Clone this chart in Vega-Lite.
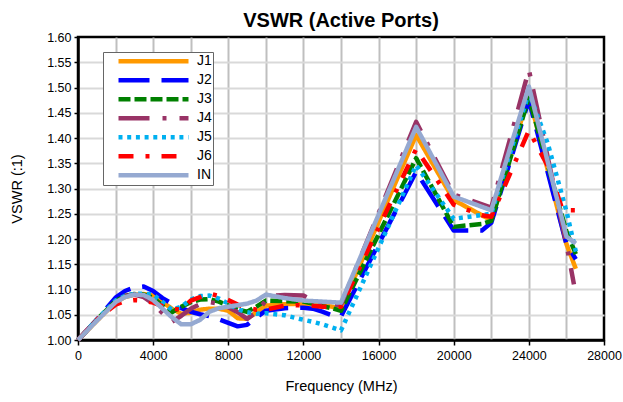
{
  "$schema": "https://vega.github.io/schema/vega-lite/v6.json",
  "width": 526,
  "height": 303,
  "autosize": {"type": "none"},
  "padding": {"left": 78, "top": 37, "right": 19, "bottom": 62},
  "title": {"text": "VSWR (Active Ports)", "font": "Liberation Sans", "fontSize": 20, "fontWeight": "bold", "color": "black", "offset": 0, "anchor": "middle"},
  "datasets": {
    "pts": [
      {"port":"J1","freq":0,"vswr":1.000},{"port":"J1","freq":1000,"vswr":1.038},{"port":"J1","freq":2000,"vswr":1.075},{"port":"J1","freq":2500,"vswr":1.085},{"port":"J1","freq":3000,"vswr":1.090},{"port":"J1","freq":3500,"vswr":1.091},{"port":"J1","freq":4000,"vswr":1.088},{"port":"J1","freq":4500,"vswr":1.075},{"port":"J1","freq":5000,"vswr":1.062},{"port":"J1","freq":5500,"vswr":1.052},{"port":"J1","freq":6000,"vswr":1.054},{"port":"J1","freq":6500,"vswr":1.060},{"port":"J1","freq":7000,"vswr":1.062},{"port":"J1","freq":7500,"vswr":1.062},{"port":"J1","freq":8000,"vswr":1.058},{"port":"J1","freq":8500,"vswr":1.043},{"port":"J1","freq":9000,"vswr":1.042},{"port":"J1","freq":9500,"vswr":1.055},{"port":"J1","freq":10000,"vswr":1.068},{"port":"J1","freq":11000,"vswr":1.071},{"port":"J1","freq":12000,"vswr":1.072},{"port":"J1","freq":12500,"vswr":1.072},{"port":"J1","freq":13000,"vswr":1.070},{"port":"J1","freq":13500,"vswr":1.066},{"port":"J1","freq":14000,"vswr":1.062},{"port":"J1","freq":18000,"vswr":1.406},{"port":"J1","freq":20000,"vswr":1.277},{"port":"J1","freq":22000,"vswr":1.237},{"port":"J1","freq":24000,"vswr":1.485},{"port":"J1","freq":26000,"vswr":1.190},{"port":"J1","freq":26500,"vswr":1.141},
      {"port":"J2","freq":0,"vswr":1.000},{"port":"J2","freq":1000,"vswr":1.040},{"port":"J2","freq":2000,"vswr":1.084},{"port":"J2","freq":2500,"vswr":1.097},{"port":"J2","freq":3000,"vswr":1.104},{"port":"J2","freq":3500,"vswr":1.106},{"port":"J2","freq":4000,"vswr":1.097},{"port":"J2","freq":4500,"vswr":1.083},{"port":"J2","freq":5000,"vswr":1.072},{"port":"J2","freq":5500,"vswr":1.063},{"port":"J2","freq":6000,"vswr":1.056},{"port":"J2","freq":6500,"vswr":1.051},{"port":"J2","freq":7000,"vswr":1.047},{"port":"J2","freq":7500,"vswr":1.041},{"port":"J2","freq":8000,"vswr":1.034},{"port":"J2","freq":8500,"vswr":1.027},{"port":"J2","freq":9000,"vswr":1.030},{"port":"J2","freq":9500,"vswr":1.045},{"port":"J2","freq":10000,"vswr":1.058},{"port":"J2","freq":11000,"vswr":1.063},{"port":"J2","freq":12000,"vswr":1.064},{"port":"J2","freq":12500,"vswr":1.062},{"port":"J2","freq":13000,"vswr":1.056},{"port":"J2","freq":13500,"vswr":1.049},{"port":"J2","freq":14000,"vswr":1.047},{"port":"J2","freq":18000,"vswr":1.333},{"port":"J2","freq":20000,"vswr":1.217},{"port":"J2","freq":21500,"vswr":1.217},{"port":"J2","freq":22000,"vswr":1.232},{"port":"J2","freq":24000,"vswr":1.475},{"port":"J2","freq":26000,"vswr":1.190},{"port":"J2","freq":26500,"vswr":1.160},
      {"port":"J3","freq":0,"vswr":1.000},{"port":"J3","freq":1000,"vswr":1.040},{"port":"J3","freq":2000,"vswr":1.077},{"port":"J3","freq":2500,"vswr":1.087},{"port":"J3","freq":3000,"vswr":1.091},{"port":"J3","freq":3500,"vswr":1.090},{"port":"J3","freq":4000,"vswr":1.084},{"port":"J3","freq":4500,"vswr":1.068},{"port":"J3","freq":5000,"vswr":1.055},{"port":"J3","freq":5500,"vswr":1.066},{"port":"J3","freq":6000,"vswr":1.075},{"port":"J3","freq":6500,"vswr":1.080},{"port":"J3","freq":7000,"vswr":1.081},{"port":"J3","freq":7500,"vswr":1.076},{"port":"J3","freq":8000,"vswr":1.068},{"port":"J3","freq":8500,"vswr":1.060},{"port":"J3","freq":9000,"vswr":1.056},{"port":"J3","freq":9500,"vswr":1.066},{"port":"J3","freq":10000,"vswr":1.078},{"port":"J3","freq":11000,"vswr":1.077},{"port":"J3","freq":12000,"vswr":1.076},{"port":"J3","freq":12500,"vswr":1.072},{"port":"J3","freq":13000,"vswr":1.067},{"port":"J3","freq":13500,"vswr":1.063},{"port":"J3","freq":14000,"vswr":1.058},{"port":"J3","freq":18000,"vswr":1.360},{"port":"J3","freq":20000,"vswr":1.224},{"port":"J3","freq":21500,"vswr":1.230},{"port":"J3","freq":22000,"vswr":1.236},{"port":"J3","freq":24000,"vswr":1.480},{"port":"J3","freq":26000,"vswr":1.215},{"port":"J3","freq":26500,"vswr":1.170},
      {"port":"J4","freq":0,"vswr":1.000},{"port":"J4","freq":1000,"vswr":1.040},{"port":"J4","freq":2000,"vswr":1.077},{"port":"J4","freq":2500,"vswr":1.087},{"port":"J4","freq":3000,"vswr":1.090},{"port":"J4","freq":3500,"vswr":1.085},{"port":"J4","freq":4000,"vswr":1.072},{"port":"J4","freq":4500,"vswr":1.053},{"port":"J4","freq":5000,"vswr":1.036},{"port":"J4","freq":5500,"vswr":1.048},{"port":"J4","freq":6000,"vswr":1.062},{"port":"J4","freq":6500,"vswr":1.071},{"port":"J4","freq":7000,"vswr":1.075},{"port":"J4","freq":7500,"vswr":1.072},{"port":"J4","freq":8000,"vswr":1.065},{"port":"J4","freq":8500,"vswr":1.055},{"port":"J4","freq":9000,"vswr":1.042},{"port":"J4","freq":9500,"vswr":1.055},{"port":"J4","freq":10000,"vswr":1.078},{"port":"J4","freq":10500,"vswr":1.088},{"port":"J4","freq":11000,"vswr":1.089},{"port":"J4","freq":12000,"vswr":1.088},{"port":"J4","freq":12500,"vswr":1.078},{"port":"J4","freq":13000,"vswr":1.071},{"port":"J4","freq":13500,"vswr":1.070},{"port":"J4","freq":14000,"vswr":1.070},{"port":"J4","freq":18000,"vswr":1.432},{"port":"J4","freq":20000,"vswr":1.288},{"port":"J4","freq":22000,"vswr":1.262},{"port":"J4","freq":24000,"vswr":1.535},{"port":"J4","freq":26000,"vswr":1.190},{"port":"J4","freq":26400,"vswr":1.110},
      {"port":"J5","freq":0,"vswr":1.000},{"port":"J5","freq":1000,"vswr":1.040},{"port":"J5","freq":2000,"vswr":1.078},{"port":"J5","freq":2500,"vswr":1.087},{"port":"J5","freq":3000,"vswr":1.091},{"port":"J5","freq":3500,"vswr":1.092},{"port":"J5","freq":4000,"vswr":1.090},{"port":"J5","freq":4500,"vswr":1.075},{"port":"J5","freq":5000,"vswr":1.060},{"port":"J5","freq":5500,"vswr":1.066},{"port":"J5","freq":6000,"vswr":1.080},{"port":"J5","freq":6500,"vswr":1.087},{"port":"J5","freq":7000,"vswr":1.088},{"port":"J5","freq":7500,"vswr":1.082},{"port":"J5","freq":8000,"vswr":1.072},{"port":"J5","freq":8500,"vswr":1.061},{"port":"J5","freq":9000,"vswr":1.055},{"port":"J5","freq":9500,"vswr":1.052},{"port":"J5","freq":10000,"vswr":1.053},{"port":"J5","freq":11000,"vswr":1.049},{"port":"J5","freq":12000,"vswr":1.040},{"port":"J5","freq":12500,"vswr":1.036},{"port":"J5","freq":13000,"vswr":1.031},{"port":"J5","freq":13500,"vswr":1.025},{"port":"J5","freq":14000,"vswr":1.019},{"port":"J5","freq":14500,"vswr":1.060},{"port":"J5","freq":18000,"vswr":1.346},{"port":"J5","freq":20000,"vswr":1.240},{"port":"J5","freq":22000,"vswr":1.250},{"port":"J5","freq":24000,"vswr":1.490},{"port":"J5","freq":25000,"vswr":1.390},{"port":"J5","freq":26000,"vswr":1.255},{"port":"J5","freq":26500,"vswr":1.175},
      {"port":"J6","freq":0,"vswr":1.000},{"port":"J6","freq":1000,"vswr":1.040},{"port":"J6","freq":1500,"vswr":1.055},{"port":"J6","freq":2000,"vswr":1.070},{"port":"J6","freq":2500,"vswr":1.077},{"port":"J6","freq":3000,"vswr":1.079},{"port":"J6","freq":3500,"vswr":1.078},{"port":"J6","freq":4000,"vswr":1.074},{"port":"J6","freq":4500,"vswr":1.067},{"port":"J6","freq":5000,"vswr":1.062},{"port":"J6","freq":5500,"vswr":1.060},{"port":"J6","freq":6000,"vswr":1.078},{"port":"J6","freq":6500,"vswr":1.085},{"port":"J6","freq":7000,"vswr":1.092},{"port":"J6","freq":7500,"vswr":1.087},{"port":"J6","freq":8000,"vswr":1.079},{"port":"J6","freq":8500,"vswr":1.070},{"port":"J6","freq":9000,"vswr":1.064},{"port":"J6","freq":9500,"vswr":1.060},{"port":"J6","freq":10000,"vswr":1.060},{"port":"J6","freq":11000,"vswr":1.068},{"port":"J6","freq":12000,"vswr":1.069},{"port":"J6","freq":12500,"vswr":1.068},{"port":"J6","freq":13000,"vswr":1.066},{"port":"J6","freq":13500,"vswr":1.066},{"port":"J6","freq":14000,"vswr":1.066},{"port":"J6","freq":18000,"vswr":1.378},{"port":"J6","freq":20000,"vswr":1.268},{"port":"J6","freq":21500,"vswr":1.247},{"port":"J6","freq":22000,"vswr":1.244},{"port":"J6","freq":24000,"vswr":1.415},{"port":"J6","freq":25000,"vswr":1.345},{"port":"J6","freq":25800,"vswr":1.257},{"port":"J6","freq":26500,"vswr":1.257},
      {"port":"IN","freq":0,"vswr":1.000},{"port":"IN","freq":1000,"vswr":1.038},{"port":"IN","freq":2000,"vswr":1.075},{"port":"IN","freq":2500,"vswr":1.085},{"port":"IN","freq":3000,"vswr":1.090},{"port":"IN","freq":3500,"vswr":1.089},{"port":"IN","freq":4000,"vswr":1.079},{"port":"IN","freq":4500,"vswr":1.062},{"port":"IN","freq":5000,"vswr":1.045},{"port":"IN","freq":5500,"vswr":1.031},{"port":"IN","freq":6000,"vswr":1.031},{"port":"IN","freq":6500,"vswr":1.040},{"port":"IN","freq":7000,"vswr":1.056},{"port":"IN","freq":7500,"vswr":1.063},{"port":"IN","freq":8000,"vswr":1.066},{"port":"IN","freq":8500,"vswr":1.069},{"port":"IN","freq":9000,"vswr":1.072},{"port":"IN","freq":9500,"vswr":1.078},{"port":"IN","freq":10000,"vswr":1.090},{"port":"IN","freq":11000,"vswr":1.083},{"port":"IN","freq":12000,"vswr":1.078},{"port":"IN","freq":12500,"vswr":1.077},{"port":"IN","freq":13000,"vswr":1.076},{"port":"IN","freq":13500,"vswr":1.075},{"port":"IN","freq":14000,"vswr":1.074},{"port":"IN","freq":18000,"vswr":1.422},{"port":"IN","freq":20000,"vswr":1.284},{"port":"IN","freq":22000,"vswr":1.257},{"port":"IN","freq":24000,"vswr":1.502},{"port":"IN","freq":26000,"vswr":1.205},{"port":"IN","freq":26500,"vswr":1.191}
    ]
  },
  "data": {"name": "pts"},
  "mark": {"type": "line", "strokeCap": "butt", "strokeJoin": "round", "interpolate": "linear"},
  "encoding": {
    "x": {
      "field": "freq", "type": "quantitative",
      "scale": {"domain": [0, 28000], "nice": false},
      "axis": {
        "values": [0,2000,4000,6000,8000,10000,12000,14000,16000,18000,20000,22000,24000,26000,28000],
        "format": "d",
        "labelExpr": "datum.value % 4000 == 0 ? datum.label : ''",
        "grid": true,
        "gridColor": {"condition": {"test": "datum.value == 0 || datum.value == 28000", "value": "transparent"}, "value": "#bfbfbf"},
        "gridWidth": 2,
        "tickColor": {"condition": {"test": "datum.value % 4000 == 0", "value": "black"}, "value": "transparent"},
        "tickSize": 5, "tickWidth": 1.5,
        "domainColor": "black", "domainWidth": 2.5,
        "labelFont": "Liberation Sans", "labelFontSize": 12.5, "labelColor": "black", "labelPadding": 4,
        "labelFlush": false, "labelOverlap": false,
        "title": "Frequency (MHz)", "titleFont": "Liberation Sans", "titleFontSize": 14.5, "titleFontWeight": "normal", "titleColor": "black", "titlePadding": 18
      }
    },
    "y": {
      "field": "vswr", "type": "quantitative",
      "scale": {"domain": [1, 1.6], "nice": false, "zero": false},
      "axis": {
        "values": [1.0,1.05,1.1,1.15,1.2,1.25,1.3,1.35,1.4,1.45,1.5,1.55,1.6],
        "format": ".2f",
        "grid": true,
        "gridColor": {"condition": {"test": "datum.value < 1.001 || datum.value > 1.599", "value": "transparent"}, "value": "#d9d9d9"},
        "gridWidth": 2,
        "tickColor": "black", "tickSize": 4, "tickWidth": 1.5,
        "domainColor": "black", "domainWidth": 2.5,
        "labelFont": "Liberation Sans", "labelFontSize": 12.5, "labelColor": "black", "labelPadding": 3,
        "labelFlush": false, "labelOverlap": false,
        "title": "VSWR (:1)", "titleFont": "Liberation Sans", "titleFontSize": 14.5, "titleFontWeight": "normal", "titleColor": "black", "titlePadding": 22
      }
    },
    "color": {
      "field": "port", "type": "nominal", "sort": ["J1","J2","J3","J4","J5","J6","IN"],
      "scale": {"domain": ["J1","J2","J3","J4","J5","J6","IN"], "range": ["#FF9900","#0000FF","#008000","#993366","#00B0F0","#FF0000","#95A9D1"]},
      "legend": {"title": null, "orient": "none", "legendX": 25, "legendY": 15, "symbolType": "stroke", "symbolSize": 4900, "symbolStrokeWidth": 4, "clipHeight": 16.5, "rowPadding": 2, "padding": 1, "symbolOffset": 12, "labelOffset": 6, "labelFont": "Liberation Sans", "labelFontSize": 14, "labelColor": "black", "strokeColor": "#666666", "fillColor": "white", "labelExpr": "datum.label + '\u00a0\u00a0\u00a0'"}
    },
    "strokeDash": {
      "field": "port", "type": "nominal", "sort": ["J1","J2","J3","J4","J5","J6","IN"],
      "scale": {"domain": ["J1","J2","J3","J4","J5","J6","IN"], "range": [[1,0],[31,12],[12,4],[31,13,4,13],[4,4.7],[15,12,4,12],[1,0]]},
      "legend": {"title": null, "orient": "none", "legendX": 25, "legendY": 15, "symbolType": "stroke", "symbolSize": 4900, "symbolStrokeWidth": 4, "clipHeight": 16.5, "rowPadding": 2, "padding": 1, "symbolOffset": 12, "labelOffset": 6, "labelFont": "Liberation Sans", "labelFontSize": 14, "labelColor": "black", "strokeColor": "#666666", "fillColor": "white", "labelExpr": "datum.label + '\u00a0\u00a0\u00a0'"}
    },
    "strokeWidth": {
      "field": "port", "type": "nominal",
      "scale": {"domain": ["J1","J2","J3","J4","J5","J6","IN"], "range": [4.5,4.5,4.5,4.5,4.5,4.5,5.5]},
      "legend": null
    }
  },
  "config": {"view": {"stroke": "black", "strokeWidth": 2.5}, "font": "Liberation Sans"}
}
